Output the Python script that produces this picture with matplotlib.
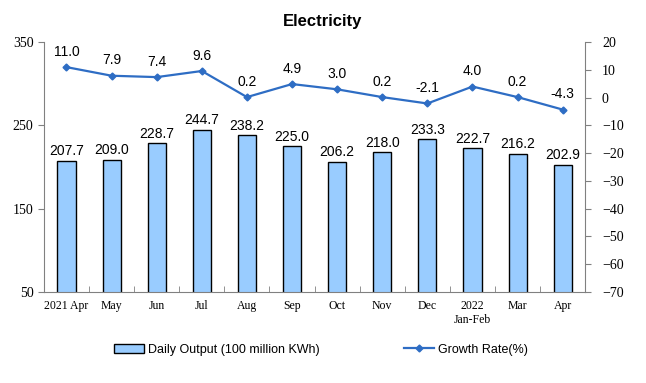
import numpy as np
import matplotlib.pyplot as plt

months = ['2021 Apr', 'May', 'Jun', 'Jul', 'Aug', 'Sep', 'Oct', 'Nov', 'Dec', '2022\nJan-Feb', 'Mar', 'Apr']
output = [207.7, 209.0, 228.7, 244.7, 238.2, 225.0, 206.2, 218.0, 233.3, 222.7, 216.2, 202.9]
growth = [11.0, 7.9, 7.4, 9.6, 0.2, 4.9, 3.0, 0.2, -2.1, 4.0, 0.2, -4.3]

serif = ['Liberation Serif', 'DejaVu Serif']
sans = ['Liberation Sans', 'DejaVu Sans']

fig = plt.figure(figsize=(6.46, 3.83), dpi=100)
ax = fig.add_axes([0.068, 0.2376, 0.838, 0.6524])
x = np.arange(len(months))

ax.bar(x, output, width=0.4, color='#99CCFF', edgecolor='black', linewidth=1,
       label='Daily Output (100 million KWh)', zorder=2)
for i, v in enumerate(output):
    ax.text(i, v + 3, f'{v:.1f}', ha='center', va='bottom', fontsize=10, family=sans)

ax.set_ylim(50, 350)
ax.set_yticks([50, 150, 250, 350])
ax.set_xlim(-0.5, len(months) - 0.5)
ax.set_xticks(x)
ax.set_xticklabels(months, fontsize=8.5, family=serif)
ax.tick_params(axis='x', length=0, pad=6)
ax.set_xticks(np.arange(-0.5, len(months)), minor=True)
ax.tick_params(axis='x', which='minor', direction='in', length=4, color='#808080')
ax.tick_params(axis='y', labelsize=10, length=4, color='#808080')
for lbl in ax.get_yticklabels():
    lbl.set_family(serif)
for s in ['top', 'right']:
    ax.spines[s].set_visible(False)
ax.spines['left'].set_color('#808080')
ax.spines['bottom'].set_color('#808080')

ax2 = ax.twinx()
ax2.plot(x, growth, color='#2E6DC4', marker='D', markersize=3.5, linewidth=1.6,
         label='Growth Rate(%)')
for i, v in enumerate(growth):
    ax2.text(i, v + 3, f'{v:.1f}', ha='center', va='bottom', fontsize=10, family=sans)
ax2.set_ylim(-70, 20)
ax2.set_yticks(np.arange(-70, 21, 10))
ax2.tick_params(axis='y', labelsize=10, length=4, color='#808080', pad=8)
for lbl in ax2.get_yticklabels():
    lbl.set_family(serif)
for s in ['top', 'left', 'bottom']:
    ax2.spines[s].set_visible(False)
ax2.spines['right'].set_color('#808080')

fig.text(0.5, 0.945, 'Electricity', ha='center', va='center', fontsize=12,
         fontweight='bold', family=sans)

h1, l1 = ax.get_legend_handles_labels()
h2, l2 = ax2.get_legend_handles_labels()
fig.legend(h1 + h2, l1 + l2, loc='center', bbox_to_anchor=(0.497, 0.087), ncol=2,
           frameon=False, columnspacing=6.8, handlelength=2.4, handletextpad=0.3,
           prop={'family': sans, 'size': 9})

fig.savefig('out.png', dpi=100)
